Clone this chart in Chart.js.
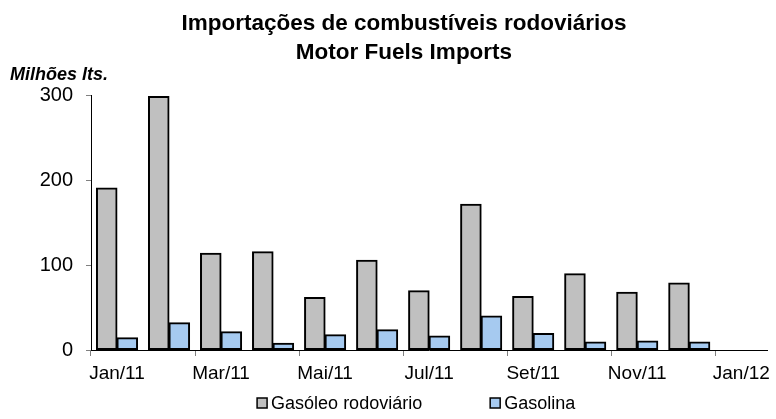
<!DOCTYPE html>
<html lang="pt">
<head>
  <meta charset="UTF-8">
  <title>Importações de combustíveis rodoviários</title>
  <style>
    html, body {
      margin: 0;
      padding: 0;
      background: #fff;
    }
    .chart-container {
      position: relative;
      width: 776px;
      height: 419px;
    }
  </style>
</head>
<body>
  <div class="chart-container">
    <canvas id="importsChart"></canvas>
  </div>

  <script src="https://cdn.jsdelivr.net/npm/chart.js"></script>
  <script>
    // dados (milhões de litros)
    const meses = ['Jan/11', 'Fev/11', 'Mar/11', 'Abr/11', 'Mai/11', 'Jun/11', 'Jul/11',
                   'Ago/11', 'Set/11', 'Out/11', 'Nov/11', 'Dez/11', 'Jan/12'];
    const gasoleo = [191, 299, 114, 116, 62, 106, 70, 172, 63, 90, 68, 79, null];
    const gasolina = [14.5, 32, 21.5, 8, 18, 24, 16.5, 40, 19.5, 9.5, 10.5, 9.5, null];
    const yTicks = [0, 100, 200, 300];
    const unidade = 'Milhões lts.';

    const fonte = "'Liberation Sans', Arial, sans-serif";

    // unidade do eixo (canto superior esquerdo) e legenda em baixo
    const extrasPlugin = {
      id: 'extras',
      afterDraw(chart) {
        const ctx = chart.ctx;
        const area = chart.chartArea;
        ctx.save();

        ctx.font = 'italic bold 18px ' + fonte;
        ctx.textBaseline = 'middle';
        ctx.textAlign = 'left';
        ctx.fillStyle = '#000';
        ctx.fillText(unidade, 10, 75.5);

        ctx.font = '18px ' + fonte;
        const items = chart.data.datasets.map(ds => ({
          text: ds.label,
          fill: ds.backgroundColor,
          w: ctx.measureText(ds.label).width
        }));
        const box = 10, gapTxt = 4, gapItem = 68;
        let total = 0;
        items.forEach((it, i) => {
          total += box + gapTxt + it.w + (i > 0 ? gapItem : 0);
        });
        let x = (area.left + area.right) / 2 - 13 - total / 2;
        const y = 403;
        items.forEach(it => {
          ctx.fillStyle = it.fill;
          ctx.fillRect(x, y - box / 2, box, box);
          ctx.strokeStyle = '#000';
          ctx.lineWidth = 1.5;
          ctx.strokeRect(x, y - box / 2, box, box);
          ctx.fillStyle = '#000';
          ctx.fillText(it.text, x + box + gapTxt, y + 1);
          x += box + gapTxt + it.w + gapItem;
        });
        ctx.restore();
      }
    };

    const ctx = document.getElementById('importsChart').getContext('2d');
    new Chart(ctx, {
      type: 'bar',
      data: {
        labels: meses,
        datasets: [
          {
            label: 'Gasóleo rodoviário',
            data: gasoleo,
            backgroundColor: '#c0c0c0',
            borderColor: '#000',
            borderWidth: 2,
            borderSkipped: false,
            inflateAmount: 0.5
          },
          {
            label: 'Gasolina',
            data: gasolina,
            backgroundColor: '#a6caf0',
            borderColor: '#000',
            borderWidth: 2,
            borderSkipped: false,
            inflateAmount: 0.5
          }
        ]
      },
      options: {
        responsive: true,
        maintainAspectRatio: false,
        animation: false,
        layout: {
          padding: { left: 37, right: 5, top: 0, bottom: 0 }
        },
        datasets: {
          bar: {
            categoryPercentage: 0.79,
            barPercentage: 1.0
          }
        },
        scales: {
          x: {
            offset: true,
            afterFit: function (scale) {
              scale.height = 69;
            },
            grid: {
              offset: true,
              drawOnChartArea: false,
              tickLength: 6,
              color: function (c) {
                return c.index % 2 === 0 ? '#808080' : 'rgba(0,0,0,0)';
              }
            },
            border: { display: true, color: '#000', width: 1 },
            ticks: {
              autoSkip: false,
              maxRotation: 0,
              padding: 6,
              color: '#000',
              font: { family: fonte, size: 19 },
              callback: function (v, i) {
                return i % 2 === 0 ? meses[i] : '';
              }
            }
          },
          y: {
            min: 0,
            max: 300,
            afterFit: function (scale) {
              scale.width = 54;
            },
            afterBuildTicks: function (scale) {
              scale.ticks = yTicks.map(v => ({ value: v }));
            },
            grid: {
              drawOnChartArea: false,
              tickLength: 5,
              color: '#808080'
            },
            border: { display: true, color: '#000', width: 1 },
            ticks: {
              padding: 13,
              color: '#000',
              font: { family: fonte, size: 20 }
            }
          }
        },
        plugins: {
          legend: { display: false },
          tooltip: { enabled: false },
          title: {
            display: true,
            text: ['Importações de combustíveis rodoviários', 'Motor Fuels Imports'],
            color: '#000',
            font: { family: fonte, size: 22.5, weight: 'bold', lineHeight: 1.26 },
            padding: { top: 10, bottom: 29 }
          }
        }
      },
      plugins: [extrasPlugin]
    });
  </script>
</body>
</html>
